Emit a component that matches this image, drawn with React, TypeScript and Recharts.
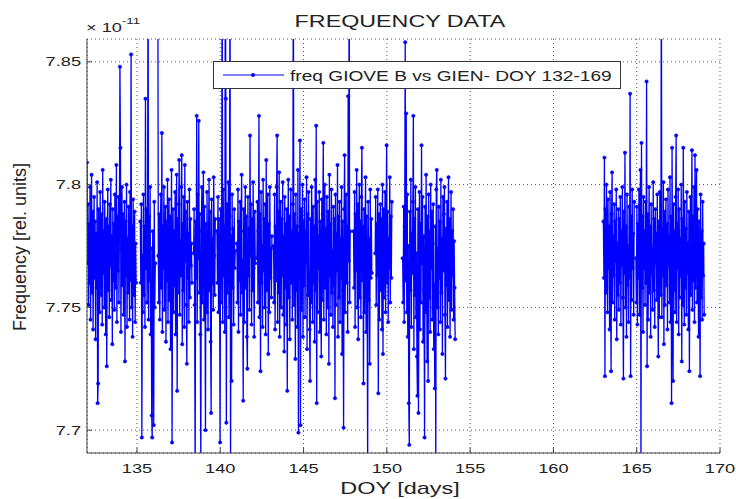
import { LineChart, Line, XAxis, YAxis, CartesianGrid, Legend } from "recharts";

// values in units of 1e-11 (axis shows "x 10^-11"), one array per contiguous stretch of data
const segA = [7.809, 7.768, 7.792, 7.751, 7.784, 7.76, 7.799, 7.745, 7.777, 7.804, 7.756, 7.789, 7.741, 7.771, 7.795, 7.762, 7.785, 7.737, 7.78, 7.758, 7.801, 7.711, 7.719, 7.79, 7.766, 7.748, 7.797, 7.773, 7.755, 7.788, 7.743, 7.806, 7.764, 7.781, 7.75, 7.793, 7.769, 7.739, 7.786, 7.726, 7.776, 7.798, 7.757, 7.783, 7.746, 7.792, 7.767, 7.802, 7.753, 7.779, 7.735, 7.79, 7.761, 7.784, 7.749, 7.796, 7.772, 7.758, 7.808, 7.744, 7.787, 7.765, 7.795, 7.752, 7.782, 7.848, 7.815, 7.74, 7.774, 7.799, 7.759, 7.788, 7.747, 7.77, 7.793, 7.728, 7.785, 7.763, 7.8, 7.742, 7.778, 7.756, 7.791, 7.768, 7.745, 7.797, 7.761, 7.853, 7.75, 7.783, 7.738, 7.794, 7.766, 7.755, 7.789, 7.744, 7.776, 7.76];
const segB = [7.785, 7.76, 7.792, 7.697, 7.771, 7.748, 7.796, 7.755, 7.783, 7.742, 7.835, 7.766, 7.79, 7.752, 7.778, 7.9, 7.745, 7.787, 7.761, 7.799, 7.739, 7.774, 7.706, 7.697, 7.781, 7.757, 7.702, 7.793, 7.75, 7.768];
const segC = [7.9, 7.771, 7.752, 7.788, 7.745, 7.779, 7.796, 7.758, 7.821, 7.74, 7.783, 7.766, 7.799, 7.749, 7.775, 7.791, 7.736, 7.785, 7.761, 7.802, 7.744, 7.77, 7.794, 7.753, 7.787, 7.733, 7.778, 7.806, 7.695, 7.764, 7.79, 7.748, 7.781, 7.759, 7.797, 7.739, 7.773, 7.804, 7.716, 7.786, 7.756, 7.792, 7.81, 7.747, 7.777, 7.763, 7.799, 7.812, 7.735, 7.784, 7.757, 7.795, 7.742, 7.808, 7.769, 7.789, 7.751, 7.727, 7.793, 7.762, 7.78, 7.744, 7.798, 7.754, 7.786, 7.767, 7.776, 7.76];
const segD = [7.772, 7.79, 7.751, 7.68, 7.785, 7.762, 7.828, 7.744, 7.796, 7.77, 7.826, 7.756, 7.788, 7.739, 7.685, 7.781, 7.799, 7.752, 7.776, 7.805, 7.745, 7.791, 7.763, 7.7, 7.784, 7.748, 7.797, 7.767, 7.741, 7.78, 7.802, 7.757, 7.789, 7.736, 7.707, 7.794, 7.76, 7.778, 7.749, 7.803, 7.771, 7.755, 7.786];
const segE = [7.781, 7.76, 7.795, 7.748, 7.786, 7.769, 7.695, 7.79, 7.752, 7.777, 7.9, 7.744, 7.798, 7.763, 7.783, 7.74, 7.9, 7.835, 7.703, 7.792, 7.756, 7.774, 7.801, 7.746, 7.787, 7.9, 7.685, 7.779, 7.72, 7.796, 7.758, 7.782, 7.743, 7.79, 7.766, 7.773];
const segF = [7.776, 7.752, 7.798, 7.74, 7.785, 7.761, 7.793, 7.747, 7.781, 7.804, 7.756, 7.769, 7.712, 7.79, 7.744, 7.778, 7.799, 7.758, 7.787, 7.738, 7.725, 7.795, 7.763, 7.782, 7.749, 7.82, 7.771, 7.792, 7.743, 7.786, 7.757, 7.801, 7.766, 7.738, 7.789, 7.768];
const segG = [7.77, 7.793, 7.752, 7.781, 7.828, 7.746, 7.788, 7.724, 7.797, 7.76, 7.775, 7.742, 7.802, 7.765, 7.786, 7.75, 7.792, 7.739, 7.81, 7.757, 7.779, 7.796, 7.731, 7.784, 7.748, 7.799, 7.762, 7.774, 7.754, 7.779];
const segH = [7.775, 7.752, 7.796, 7.741, 7.783, 7.761, 7.799, 7.82, 7.744, 7.789, 7.756, 7.805, 7.738, 7.772, 7.793, 7.75, 7.786, 7.763, 7.801, 7.747, 7.779, 7.732, 7.795, 7.758, 7.784, 7.743, 7.79, 7.716, 7.768, 7.802, 7.754, 7.787, 7.737, 7.776, 7.798, 7.76, 7.781, 7.745, 7.792, 7.9, 7.751, 7.788, 7.765, 7.729, 7.796, 7.757, 7.783, 7.742, 7.806, 7.699, 7.78, 7.762, 7.818, 7.702, 7.79, 7.749, 7.774, 7.8, 7.738, 7.785, 7.759, 7.794, 7.746, 7.781, 7.768, 7.803, 7.733, 7.788, 7.755, 7.797, 7.764, 7.741, 7.72, 7.786, 7.752, 7.799, 7.77, 7.744, 7.791, 7.76, 7.783, 7.736, 7.802, 7.757, 7.824, 7.711, 7.793, 7.748, 7.779, 7.766, 7.797, 7.74, 7.785, 7.761, 7.73, 7.794, 7.753, 7.788, 7.817, 7.745, 7.776, 7.8, 7.758, 7.782, 7.739, 7.795, 7.767, 7.75, 7.789, 7.727, 7.804, 7.763, 7.784, 7.747, 7.798, 7.756, 7.773, 7.742, 7.791, 7.759, 7.786, 7.713, 7.796, 7.751, 7.78, 7.765, 7.808, 7.738, 7.787, 7.754, 7.793, 7.744, 7.778, 7.762, 7.799, 7.731, 7.785, 7.757, 7.701, 7.79, 7.812, 7.748, 7.775, 7.796, 7.76, 7.783, 7.74, 7.836, 7.769, 7.9, 7.752, 7.781];
const segI = [7.781, 7.758, 7.797, 7.742, 7.788, 7.765, 7.806, 7.75, 7.792, 7.737, 7.776, 7.8, 7.754, 7.785, 7.746, 7.795, 7.815, 7.761, 7.783, 7.719, 7.79, 7.748, 7.774, 7.803, 7.74, 7.787, 7.757, 7.685, 7.793, 7.753, 7.778, 7.727, 7.798, 7.762, 7.786, 7.764];
const segJ = [7.772, 7.795, 7.751, 7.784, 7.763, 7.798, 7.715, 7.788, 7.745, 7.779, 7.792, 7.757, 7.786, 7.741, 7.8, 7.731, 7.79, 7.754, 7.775, 7.797, 7.748, 7.783, 7.816, 7.76, 7.789, 7.744, 7.778, 7.766, 7.803, 7.752, 7.787, 7.762, 7.793];
const segK = [7.77, 7.752, 7.791, 7.744, 7.783, 7.858, 7.761, 7.829, 7.748, 7.796, 7.738, 7.775, 7.711, 7.694, 7.789, 7.757, 7.802, 7.742, 7.78, 7.764, 7.793, 7.828, 7.733, 7.786, 7.755, 7.799, 7.746, 7.772, 7.73, 7.714, 7.79, 7.707, 7.76, 7.797, 7.741, 7.784, 7.752, 7.816, 7.768, 7.795, 7.736, 7.779, 7.757, 7.697, 7.791, 7.748, 7.804, 7.763, 7.728, 7.787, 7.72, 7.796, 7.754, 7.781, 7.74, 7.8, 7.766, 7.789, 7.745, 7.776, 7.792, 7.733, 7.759, 7.717, 7.783, 7.685, 7.798, 7.806, 7.75, 7.774, 7.739, 7.791, 7.762, 7.785, 7.744, 7.802, 7.756, 7.778, 7.731, 7.795, 7.765, 7.788, 7.799, 7.747, 7.721, 7.782, 7.759, 7.793, 7.742, 7.776, 7.803, 7.753, 7.786, 7.738, 7.77, 7.797, 7.749, 7.781, 7.763, 7.79, 7.745, 7.777, 7.758, 7.737];
const segL = [7.785, 7.762, 7.811, 7.722, 7.79, 7.756, 7.8, 7.771, 7.748, 7.794, 7.766, 7.783, 7.741, 7.797, 7.758, 7.724, 7.788, 7.805, 7.752, 7.779, 7.763, 7.792, 7.745, 7.785, 7.769, 7.798, 7.737, 7.776, 7.755, 7.79, 7.749, 7.786, 7.76, 7.795, 7.743, 7.781, 7.767, 7.799, 7.754, 7.721, 7.789, 7.764, 7.813, 7.75, 7.783, 7.738, 7.796, 7.759, 7.775, 7.744, 7.791, 7.762, 7.837, 7.722, 7.787, 7.753, 7.798, 7.766, 7.78, 7.747, 7.793];
const segM = [7.77, 7.752, 7.791, 7.743, 7.784, 7.762, 7.798, 7.747, 7.779, 7.806, 7.685, 7.817, 7.758, 7.787, 7.74, 7.795, 7.766, 7.781, 7.751, 7.793, 7.76, 7.842, 7.726, 7.788, 7.745, 7.776, 7.799, 7.756, 7.783, 7.738, 7.792, 7.764, 7.774, 7.749, 7.801, 7.757, 7.786, 7.742, 7.79, 7.768, 7.78, 7.753, 7.796, 7.761, 7.73, 7.785, 7.746, 7.797, 7.772, 7.755, 7.9, 7.746, 7.782, 7.763, 7.801, 7.735, 7.789, 7.751, 7.776, 7.794, 7.759, 7.784, 7.741, 7.798, 7.767, 7.779, 7.752, 7.803, 7.744, 7.787, 7.711, 7.815, 7.762, 7.72, 7.792, 7.757, 7.781, 7.748, 7.795, 7.82, 7.744, 7.784, 7.766, 7.798, 7.739, 7.79, 7.754, 7.778, 7.763, 7.8, 7.728, 7.786, 7.751, 7.815, 7.769, 7.743, 7.793, 7.758, 7.782, 7.747, 7.797, 7.764, 7.776, 7.741, 7.789, 7.724, 7.771, 7.795, 7.755, 7.783, 7.814, 7.749, 7.787, 7.761, 7.799, 7.744, 7.812, 7.758, 7.778, 7.806, 7.752, 7.79, 7.766, 7.738, 7.785, 7.76, 7.722, 7.796, 7.754, 7.781, 7.745, 7.793, 7.763, 7.776, 7.747];

// first/last DOY of each stretch (samples are evenly spaced inside it)
const segStarts = [132.0, 135.2, 136.25, 138.4, 139.8, 141.0, 142.2, 143.2, 148.0, 149.3, 150.95, 163.0, 164.95];
const segEnds = [134.95, 136.1, 138.3, 139.7, 140.9, 142.1, 143.1, 147.8, 149.1, 150.3, 154.1, 164.85, 169.05];
const segValues = [segA, segB, segC, segD, segE, segF, segG, segH, segI, segJ, segK, segL, segM];

const xTicks = [135, 140, 145, 150, 155, 160, 165, 170];
const yTicks = [7.7, 7.75, 7.8, 7.85];
const seriesName = "freq GIOVE B vs GIEN- DOY 132-169";

// gaps are kept as null points so the line breaks like the original
const data = segValues.flatMap((vals, k) => {
  const step = (segEnds[k] - segStarts[k]) / (vals.length - 1);
  const pts: { doy: number; freq: number | null }[] = vals.map((v, i) => ({ doy: segStarts[k] + i * step, freq: v }));
  if (k < segValues.length - 1) pts.push({ doy: segEnds[k] + 0.02, freq: null });
  return pts;
});

const FONT = "'Liberation Sans', Arial, Helvetica, sans-serif";
const BLUE = "#0000ff";
const AXIS = "#444";

const XTick = ({ x, y, payload }: any) => (
  <g transform={`translate(${x},${y})`}>
    <text transform="scale(1.4,1)" textAnchor="middle" dy={15} fontSize={13} fill="#222" fontFamily={FONT}>
      {payload.value}
    </text>
  </g>
);

const YTick = ({ x, y, payload }: any) => (
  <g transform={`translate(${x},${y})`}>
    <text transform="scale(1.4,1)" textAnchor="end" dy={4.5} fontSize={13} fill="#222" fontFamily={FONT}>
      {String(payload.value)}
    </text>
  </g>
);

const LegendBox = () => (
  <svg width={409} height={29} style={{ display: "block" }}>
    <rect x={0.5} y={0.5} width={407} height={27} fill="#fff" stroke="#333" strokeWidth={1} />
    <line x1={10} y1={14} x2={71} y2={14} stroke={BLUE} strokeWidth={1} />
    <circle cx={40} cy={14} r={2} fill={BLUE} />
    <text transform="translate(77,19.5) scale(1.32,1)" fontSize={14.5} fill="#222" fontFamily={FONT}>
      {seriesName}
    </text>
  </svg>
);

export default function App() {
  return (
    <div style={{ position: "relative", width: 736, height: 499, background: "#fff" }}>
      <style>{"body{margin:0}"}</style>
      <LineChart
        width={736}
        height={499}
        data={data}
        margin={{ top: 39, right: 16, bottom: 0, left: 0 }}
      >
        <CartesianGrid stroke="#555" strokeDasharray="1 3" />
        <XAxis
          dataKey="doy"
          type="number"
          domain={[132, 170]}
          ticks={xTicks}
          allowDataOverflow
          height={46}
          stroke={AXIS}
          tickSize={-5}
          tickMargin={10}
          tick={<XTick />}
        />
        <XAxis
          xAxisId="top"
          orientation="top"
          type="number"
          domain={[132, 170]}
          ticks={xTicks}
          height={0}
          stroke={AXIS}
          tickSize={-5}
          tick={false}
        />
        <YAxis
          type="number"
          domain={[7.6907, 7.8593]}
          ticks={yTicks}
          allowDataOverflow
          width={87}
          stroke={AXIS}
          tickSize={-5}
          tickMargin={11}
          tick={<YTick />}
        />
        <YAxis
          yAxisId="right"
          orientation="right"
          type="number"
          domain={[7.6907, 7.8593]}
          ticks={yTicks}
          width={0}
          stroke={AXIS}
          tickSize={-5}
          tick={false}
        />
        <Legend
          verticalAlign="middle"
          align="center"
          content={<LegendBox />}
          wrapperStyle={{ top: 61, left: 213, width: 409, height: 29 }}
        />
        <Line
          dataKey="freq"
          name={seriesName}
          stroke={BLUE}
          strokeWidth={1.3}
          dot={{ r: 1.7, fill: BLUE, stroke: BLUE, strokeWidth: 0.5 }}
          activeDot={false}
          connectNulls={false}
          isAnimationActive={false}
        />
      </LineChart>
      <svg width={736} height={499} style={{ position: "absolute", left: 0, top: 0, pointerEvents: "none" }}>
        <text transform="translate(400,27) scale(1.37,1)" textAnchor="middle" fontSize={17} fill="#222" fontFamily={FONT}>
          FREQUENCY DATA
        </text>
        <text transform="translate(86,32) scale(1.4,1)" fontSize={13} fill="#222" fontFamily={FONT}>
          × 10
          <tspan fontSize={9.5} dy={-8}>-11</tspan>
        </text>
        <text transform="translate(400,494) scale(1.38,1)" textAnchor="middle" fontSize={17} fill="#222" fontFamily={FONT}>
          DOY [days]
        </text>
        <text transform="translate(26,247) rotate(-90)" textAnchor="middle" fontSize={18} fill="#222" fontFamily={FONT}>
          Frequency [rel. units]
        </text>
      </svg>
    </div>
  );
}
